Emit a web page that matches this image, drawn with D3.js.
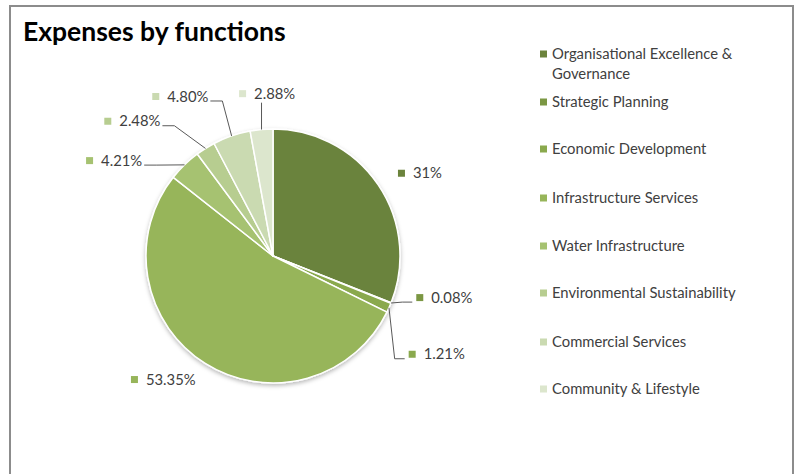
<!DOCTYPE html>
<html>
<head>
<meta charset="utf-8">
<script src="https://cdn.jsdelivr.net/npm/d3@7"></script>
<style>
  html, body { margin: 0; padding: 0; background: #fff; }
  svg { display: block; }
</style>
</head>
<body>
<svg id="chart" width="798" height="474"></svg>
<script>
// Expense shares by council function (percent of total)
const functions = [
  "Organisational Excellence & Governance",
  "Strategic Planning",
  "Economic Development",
  "Infrastructure Services",
  "Water Infrastructure",
  "Environmental Sustainability",
  "Commercial Services",
  "Community & Lifestyle"
];
const shares = [31, 0.08, 1.21, 53.35, 4.21, 2.48, 4.80, 2.88];
const shareLabels = ["31%", "0.08%", "1.21%", "53.35%", "4.21%", "2.48%", "4.80%", "2.88%"];
const legendLines = [
  ["Organisational Excellence &", "Governance"],
  ["Strategic Planning"],
  ["Economic Development"],
  ["Infrastructure Services"],
  ["Water Infrastructure"],
  ["Environmental Sustainability"],
  ["Commercial Services"],
  ["Community & Lifestyle"]
];
const palette = ["#6b833c", "#7b9743", "#8aa94d", "#97b55a", "#a6c271", "#b7cd90", "#cadab1", "#dce6cd"];

const svg = d3.select("#chart");
const W = 798, H = 474;
const font = "Lato, 'Open Sans', sans-serif";
const textColor = "#404040";
const labelSize = 14.8;

// chart frame (open at the bottom, running past the viewport)
svg.append("path")
  .attr("d", `M10,${H + 5} L10,6 L793,6 L793,${H + 5}`)
  .attr("fill", "none")
  .attr("stroke", "#8c8c8c")
  .attr("stroke-width", 2);

svg.append("text")
  .attr("x", 23).attr("y", 41)
  .attr("font-family", font)
  .attr("font-weight", 700)
  .attr("font-size", 26.5)
  .attr("fill", "#000")
  .text("Expenses by functions");

// soft shadow under the pie
const defs = svg.append("defs");
const f = defs.append("filter").attr("id", "pieShadow")
  .attr("x", "-20%").attr("y", "-20%").attr("width", "140%").attr("height", "140%");
f.append("feDropShadow")
  .attr("dx", 0).attr("dy", 2).attr("stdDeviation", 2)
  .attr("flood-color", "#000").attr("flood-opacity", 0.28);

const cx = 273, cy = 256, R = 127;
const color = d3.scaleOrdinal().domain(functions).range(palette);

const pie = d3.pie().sort(null).startAngle(0).endAngle(2 * Math.PI)
  .value((d, i) => shares[i]);
const arcs = pie(functions);
const arc = d3.arc().innerRadius(0).outerRadius(R);
const edgeArc = d3.arc().innerRadius(R).outerRadius(R);
const labelArc = d3.arc().innerRadius(165).outerRadius(165);

const g = svg.append("g").attr("transform", `translate(${cx},${cy})`);
g.append("g").attr("filter", "url(#pieShadow)")
  .selectAll("path")
  .data(arcs)
  .join("path")
  .attr("d", arc)
  .attr("fill", d => color(d.data))
  .attr("stroke", "#fff")
  .attr("stroke-width", 1.5)
  .attr("stroke-linejoin", "round");

// data labels: placed on a ring around the pie, then nudged apart like a best-fit layout
const labelNudge = [[-11.5, 10], [-10, -19.5], [-15, 31], [-54, -16], [-72, 23], [-81, 5], [-67, -3.5], [-19, 2]];
const leaderShown = [false, true, true, false, true, true, true, true];

const labelLayer = svg.append("g");
arcs.forEach((d, i) => {
  const c = labelArc.centroid(d);
  const mx = cx + c[0] + labelNudge[i][0];   // marker left edge
  const my = cy + c[1] + labelNudge[i][1];   // label vertical centre
  const lg = labelLayer.append("g");
  lg.append("rect")
    .attr("x", mx).attr("y", my - 3.5)
    .attr("width", 7).attr("height", 7)
    .attr("fill", color(d.data));
  const t = lg.append("text")
    .attr("x", mx + 15).attr("y", my)
    .attr("dy", "0.35em")
    .attr("font-family", font)
    .attr("font-size", labelSize)
    .attr("fill", textColor)
    .text(shareLabels[i]);
  const tw = t.node().getComputedTextLength();
  if (!leaderShown[i]) return;
  const e = edgeArc.centroid(d);
  const ex = cx + e[0], ey = cy + e[1];
  const left = mx - 4, right = mx + 15 + tw + 2;
  const ly = my + 4.5;
  let pts;
  if (ex > left && ex < right) {
    // label sits straight above the slice edge
    pts = [[ex, my + 9], [ex, ey]];
  } else if (ex <= left) {
    pts = [[left, ly], [left - 10, ly], [ex, ey]];
  } else {
    pts = [[right, ly], [right + 12, ly], [ex, ey]];
  }
  labelLayer.append("path")
    .attr("d", d3.line()(pts))
    .attr("fill", "none")
    .attr("stroke", "#595959")
    .attr("stroke-width", 1);
});

// legend
const legend = svg.append("g");
const legendY = [54, 102, 149, 198, 246, 293, 342, 389];
functions.forEach((name, i) => {
  const y = legendY[i];
  legend.append("rect")
    .attr("x", 540).attr("y", y - 3.5)
    .attr("width", 7).attr("height", 7)
    .attr("fill", color(name));
  legendLines[i].forEach((line, j) => {
    legend.append("text")
      .attr("x", 552).attr("y", y + j * 19.5)
      .attr("dy", "0.35em")
      .attr("font-family", font)
      .attr("font-size", labelSize)
      .attr("fill", textColor)
      .text(line);
  });
});
</script>
</body>
</html>
